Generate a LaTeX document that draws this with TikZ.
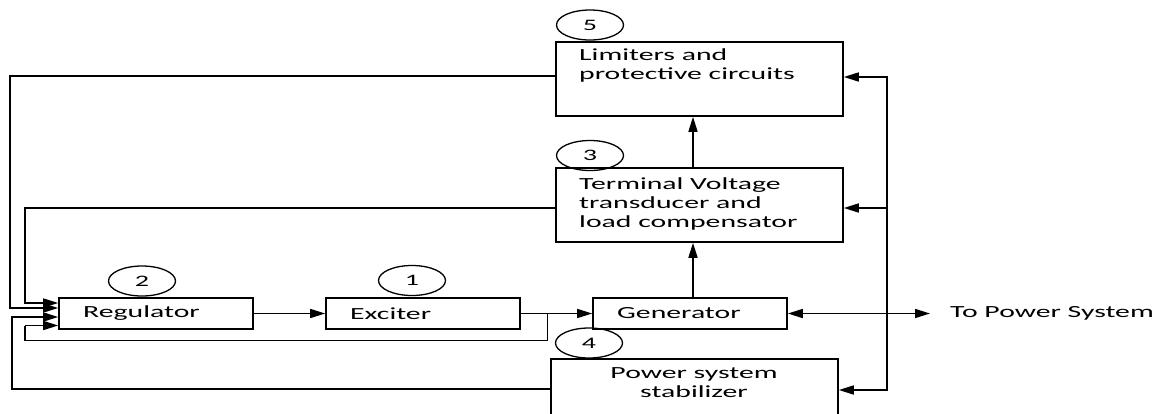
\documentclass[tikz,border=0pt]{standalone}
\usepackage{fontspec}
\setmainfont[FakeStretch=1.75]{Carlito}
\usetikzlibrary{arrows.meta,shapes.geometric,calc}
\tikzset{
  blk/.style={draw, line width=1.6pt, rectangle, inner sep=0pt},
  num/.style={draw, line width=1.3pt, ellipse, minimum width=67pt, minimum height=30pt, inner sep=0pt, font=\fontsize{16}{16}\selectfont},
  lbl/.style={inner sep=0pt, font=\fontsize{17}{19}\selectfont},
  wire/.style={line width=1.6pt},
  arr/.style={wire, -{Triangle[length=15pt,width=9pt]}},
}
\begin{document}
\begin{tikzpicture}[x=1pt,y=-1pt]
\clip (0,0) rectangle (1176,413);
\fill[white] (0,0) rectangle (1176,413);
% blocks
\node[blk, minimum width=287pt, minimum height=74pt] (lim) at (699.5,79) {};
\node[blk, minimum width=287pt, minimum height=74pt] (term) at (699.5,205) {};
\node[blk, minimum width=194pt, minimum height=31pt] (reg) at (156,313.5) {};
\node[blk, minimum width=194pt, minimum height=31pt] (exc) at (423,313.5) {};
\node[blk, minimum width=194pt, minimum height=31pt] (gen) at (690,313.5) {};
\node[blk, minimum width=287pt, minimum height=62pt] (pss) at (694.5,390) {};
% texts
\node[lbl, anchor=west, align=left] (limt) at (579,65) {Limiters and\\protective circuits};
\node[lbl, anchor=west, align=left] (termt) at (579,204) {Terminal Voltage\\transducer and\\load compensator};
\node[lbl, anchor=west] (regt) at (83,313.5) {Regulator};
\node[lbl, anchor=west] (exct) at (350,313.5) {Exciter};
\node[lbl, anchor=west] (gent) at (617,313.5) {Generator};
\node[lbl, align=center] (psst) at (694,383) {Power system\\stabilizer};
\node[lbl, anchor=west] (tps) at (950,313.5) {To Power System};
% numbers
\node[num] (n5) at (590,25) {5};
\node[num] (n3) at (590,155.5) {3};
\node[num] (n2) at (142,281) {2};
\node[num] (n1) at (412,280.5) {1};
\node[num] (n4) at (589,343) {4};
% forward path
\draw[arr] (reg.east) -- (exc.west);
\draw[arr] (exc.east) -- (gen.west);
\coordinate (j1) at ($(exc.east)!0.375!(gen.west)$);
\draw[wire] (j1) -- ++(0,27) -| (25,325.5);
\draw[arr] (25,325.5) -- ($(reg.west)+(0,12)$);
% generator up
\coordinate (g1) at ($(gen.north)+(3,0)$);
\draw[arr] (g1) -- (g1 |- term.south);
\coordinate (t1) at ($(term.north)+(-6.5,0)$);
\draw[arr] (t1) -- (t1 |- lim.south);
% feedback paths to regulator
\draw[arr] ($(lim.west)+(0,-3)$) -| (10,308) -- ($(reg.west)+(0,-5.5)$);
\draw[arr] ($(term.west)+(0,3)$) -| (25,303) -- ($(reg.west)+(0,-10.5)$);
\draw[arr] ($(pss.west)+(0,-1)$) -| (12,317) -- ($(reg.west)+(0,3.5)$);
% output and bus
\coordinate (out) at ($(tps.west)+(-20,0)$);
\draw[wire, {Triangle[length=15pt,width=9pt]}-{Triangle[length=15pt,width=9pt]}] (gen.east) -- (out);
\coordinate (bus) at (887,313.5);
\draw[arr] (bus) |- ($(lim.east)+(0,-2)$);
\draw[arr] (bus) |- ($(term.east)+(0,3)$);
\draw[arr] (bus) |- (pss.east);
\end{tikzpicture}
\end{document}
